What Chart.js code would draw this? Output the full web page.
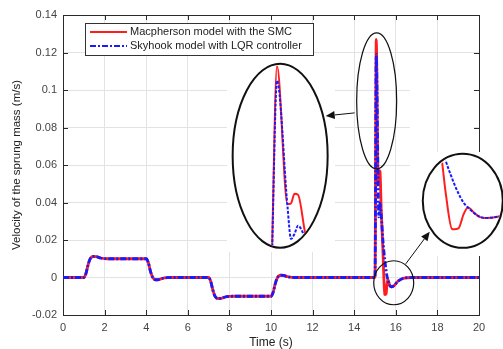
<!DOCTYPE html>
<html><head><meta charset="utf-8">
<script src="https://cdn.jsdelivr.net/npm/chart.js@4/dist/chart.umd.min.js"></script>
<style>
html,body{margin:0;padding:0;background:#fff;overflow:hidden}
#wrap{position:relative;width:503px;height:349px}
canvas{position:absolute;left:0;top:0}
</style>
</head><body><div id="wrap"><canvas id="main" width="503" height="349"></canvas></div>
<script>
// ---------------- data ----------------
const seriesNames = ['Macpherson model with the SMC', 'Skyhook model with LQR controller'];
const time = [0, 1.0, 1.1, 1.2, 1.3, 1.45, 1.6, 1.8, 2.0, 2.2,
  4.0, 4.1, 4.2, 4.3, 4.45, 4.6, 4.8, 5.0, 5.2,
  7.0, 7.1, 7.2, 7.3, 7.45, 7.6, 7.8, 8.0, 8.2,
  10.0, 10.1, 10.2, 10.3, 10.45, 10.6, 10.8, 11.0, 11.2,
  15.0, 15.06, 15.15, 15.18, 15.21, 15.24, 15.3, 15.38, 15.41, 15.47, 15.49, 15.53,
  15.58, 15.62, 15.68, 15.72, 15.78, 15.9, 16.1, 16.4, 16.8, 20];
const smc = [0, 0, 0.002, 0.0065, 0.0098, 0.0112, 0.0111, 0.0104, 0.0101, 0.0100,
  0.0100, 0.0080, 0.0035, 0.0003, -0.0012, -0.0011, -0.0004, -0.0001, 0,
  0, -0.0020, -0.0065, -0.0098, -0.0112, -0.0111, -0.0104, -0.0101, -0.0100,
  -0.0100, -0.0080, -0.0035, -0.0003, 0.0012, 0.0011, 0.0004, 0.0001, 0,
  0, 0.127, 0.0514, 0.0518, 0.057, 0.0565, 0.036, 0.0145, 0.0045, -0.009, -0.0091, -0.0088,
  -0.0035, -0.0012, -0.0032, -0.0045, -0.005, -0.0045, -0.002, -0.0003, 0, 0];
const lqr = [0, 0, 0.002, 0.0065, 0.0098, 0.0112, 0.0111, 0.0104, 0.0101, 0.0100,
  0.0100, 0.0080, 0.0035, 0.0003, -0.0012, -0.0011, -0.0004, -0.0001, 0,
  0, -0.0020, -0.0065, -0.0098, -0.0112, -0.0111, -0.0104, -0.0101, -0.0100,
  -0.0100, -0.0080, -0.0035, -0.0003, 0.0012, 0.0011, 0.0004, 0.0001, 0,
  0, 0.119, 0.05, 0.0323, 0.035, 0.0395, 0.033, 0.02, 0.016, 0.0095, 0.0075, 0.004,
  0.0005, -0.0012, -0.0033, -0.0043, -0.005, -0.0045, -0.002, -0.0003, 0, 0];
const xTicks = [0, 2, 4, 6, 8, 10, 12, 14, 16, 18, 20];
const xTickLabels = ['0', '2', '4', '6', '8', '10', '12', '14', '16', '18', '20'];
const yTicks = [-0.02, 0, 0.02, 0.04, 0.06, 0.08, 0.1, 0.12, 0.14];
const yTickLabels = ['-0.02', '0', '0.02', '0.04', '0.06', '0.08', '0.1', '0.12', '0.14'];
const xTitle = 'Time (s)';
const yTitle = 'Velocity of the sprung mass (m/s)';
// zoomed inset ranges [min, max]
const leftInsetX = [14.683, 15.497];
const leftInsetY = [0.0273, 0.1281];
const rightInsetX = [15.199, 15.947];
const rightInsetY = [-0.0159, 0.0183];

// ---------------- styling / annotations ----------------
const RED = '#ff1e1e', BLUE = '#1a1aff';
const BLUE_DASH = [6, 2, 2, 2];
const FONT = "'Liberation Sans', Arial, sans-serif";
// ellipses: center in data units, radii in px
const ellipses = {
  leftInset:  {cx: 10.44, cy: 0.0649, rx: 47.5, ry: 92, fill: true, lw: 2},
  rightInset: {cx: 19.22, cy: 0.0409, rx: 40, ry: 47, fill: true, lw: 2},
  spike:      {cx: 15.08, cy: 0.0942, rx: 20, ry: 68, fill: false, lw: 1.2},
  dip:        {cx: 15.9, cy: -0.0028, rx: 20, ry: 22, fill: false, lw: 1.2}
};
const arrows = [
  {from: [14.02, 0.0878], to: [12.63, 0.0862]},
  {from: [16.48, 0.0073], to: [17.63, 0.0244]}
];

function pts(ys) { return time.map((t, i) => ({x: t, y: ys[i]})); }
function makeDatasets(lw, dash) {
  return [
    {label: seriesNames[0], data: pts(smc), borderColor: RED, borderWidth: lw, pointRadius: 0,
     cubicInterpolationMode: 'monotone', order: 1, fill: false},
    {label: seriesNames[1], data: pts(lqr), borderColor: BLUE, borderWidth: lw, borderDash: dash,
     pointRadius: 0, cubicInterpolationMode: 'monotone', order: 0, fill: false}
  ];
}

const overlay = {
  id: 'overlay',
  beforeDatasetsDraw(chart) {
    const {ctx, chartArea: a, scales: {x, y}} = chart;
    ctx.save();
    ctx.fillStyle = '#fff';
    // cover patches (grid partly hidden behind the pasted insets)
    ctx.fillRect(227, 56, 108, 196);
    ctx.fillRect(410, 60, 64, 92);
    // grid line at 18 remains visible in upper right
    ctx.strokeStyle = '#e3e3e3'; ctx.lineWidth = 1;
    const gx = Math.round(x.getPixelForValue(18)) + 0.5;
    ctx.beginPath(); ctx.moveTo(gx, 60); ctx.lineTo(gx, 152); ctx.stroke();
    // border
    ctx.strokeStyle = '#2a2a2a'; ctx.lineWidth = 1;
    ctx.strokeRect(Math.round(a.left) + 0.5, Math.round(a.top) + 0.5,
      Math.round(a.right - a.left), Math.round(a.bottom - a.top));
    // inward ticks
    ctx.beginPath();
    xTicks.forEach(v => {
      const px = Math.round(x.getPixelForValue(v)) + 0.5;
      ctx.moveTo(px, a.top); ctx.lineTo(px, a.top + 5);
      ctx.moveTo(px, a.bottom); ctx.lineTo(px, a.bottom - 5);
    });
    yTicks.forEach(v => {
      const py = Math.round(y.getPixelForValue(v)) + 0.5;
      ctx.moveTo(a.left, py); ctx.lineTo(a.left + 5, py);
      ctx.moveTo(a.right, py); ctx.lineTo(a.right - 5, py);
    });
    ctx.stroke();
    // right inset patch hides the right border locally
    ctx.fillStyle = '#fff';
    ctx.fillRect(410, 152, 93, 104);
    ctx.restore();
  },
  afterDatasetsDraw(chart) {
    const {ctx, chartArea: a, scales: {x, y}} = chart;
    ctx.save();
    Object.values(ellipses).forEach(e => {
      const cx = x.getPixelForValue(e.cx), cy = y.getPixelForValue(e.cy);
      ctx.beginPath();
      ctx.ellipse(cx, cy, e.rx, e.ry, 0, 0, Math.PI * 2);
      if (e.fill) { ctx.fillStyle = '#fff'; ctx.fill(); }
      ctx.strokeStyle = '#111'; ctx.lineWidth = e.lw; ctx.stroke();
    });
    arrows.forEach(ar => {
      const x1 = x.getPixelForValue(ar.from[0]), y1 = y.getPixelForValue(ar.from[1]);
      const x2 = x.getPixelForValue(ar.to[0]), y2 = y.getPixelForValue(ar.to[1]);
      const ang = Math.atan2(y2 - y1, x2 - x1), L = 9, W = 4;
      const bx = x2 - L * Math.cos(ang), by = y2 - L * Math.sin(ang);
      ctx.strokeStyle = '#111'; ctx.lineWidth = 1;
      ctx.beginPath(); ctx.moveTo(x1, y1); ctx.lineTo(bx, by); ctx.stroke();
      ctx.fillStyle = '#111';
      ctx.beginPath();
      ctx.moveTo(x2, y2);
      ctx.lineTo(bx + W * Math.sin(ang), by - W * Math.cos(ang));
      ctx.lineTo(bx - W * Math.sin(ang), by + W * Math.cos(ang));
      ctx.closePath(); ctx.fill();
    });
    // legend
    const lx = Math.round(a.left) + 22, ly = Math.round(a.top) + 8, lw = 228, lh = 32;
    ctx.fillStyle = '#fff'; ctx.fillRect(lx, ly, lw, lh);
    ctx.strokeStyle = '#333'; ctx.lineWidth = 1; ctx.strokeRect(lx + 0.5, ly + 0.5, lw, lh);
    chart.data.datasets.forEach((ds, i) => {
      const yy = ly + 9 + i * 14;
      ctx.strokeStyle = ds.borderColor; ctx.lineWidth = 2;
      ctx.setLineDash(ds.borderDash || []);
      ctx.beginPath(); ctx.moveTo(lx + 5, yy); ctx.lineTo(lx + 42, yy); ctx.stroke();
      ctx.setLineDash([]);
      ctx.fillStyle = '#222'; ctx.font = '11px ' + FONT; ctx.textBaseline = 'middle';
      ctx.fillText(ds.label, lx + 45, yy);
    });
    ctx.restore();
  }
};

const main = new Chart(document.getElementById('main'), {
  type: 'line',
  data: {datasets: makeDatasets(2.8, BLUE_DASH)},
  options: {
    responsive: false, animation: false, devicePixelRatio: 1,
    layout: {padding: {top: 15, right: 24, left: 0, bottom: 0}},
    plugins: {legend: {display: false}, tooltip: {enabled: false}},
    scales: {
      x: {type: 'linear', min: 0, max: 20,
        afterBuildTicks: s => { s.ticks = xTicks.map(v => ({value: v})); },
        afterFit: s => { s.height = 34; },
        ticks: {callback: (v, i) => xTickLabels[i], color: '#444', font: {size: 11, family: FONT}, padding: 6, maxRotation: 0},
        grid: {color: '#e3e3e3', drawTicks: false}, border: {display: false},
        title: {display: true, text: xTitle, color: '#222', font: {size: 12, family: FONT, lineHeight: 1}, padding: {top: 0, bottom: 0}}
      },
      y: {type: 'linear', min: -0.02, max: 0.14,
        afterBuildTicks: s => { s.ticks = yTicks.map(v => ({value: v})); },
        afterFit: s => { s.width = 63; },
        ticks: {callback: (v, i) => yTickLabels[i], color: '#444', font: {size: 11, family: FONT}, padding: 6},
        grid: {color: '#e3e3e3', drawTicks: false}, border: {display: false},
        title: {display: true, text: yTitle, color: '#222', font: {size: 11.5, family: FONT, lineHeight: 1}, padding: {top: 11, bottom: 0}}
      }
    }
  },
  plugins: [overlay]
});

// ---------------- magnified insets ----------------
const ellipseClip = {
  id: 'ellipseClip',
  beforeDatasetsDraw(chart) {
    const {ctx, width, height} = chart;
    ctx.save(); ctx.beginPath();
    ctx.ellipse(width / 2, height / 2, width / 2 - 1.5, height / 2 - 1.5, 0, 0, Math.PI * 2);
    ctx.clip();
  },
  afterDatasetsDraw(chart) { chart.ctx.restore(); }
};
function makeInset(e, xr, yr) {
  const cx = main.scales.x.getPixelForValue(e.cx), cy = main.scales.y.getPixelForValue(e.cy);
  const c = document.createElement('canvas');
  c.width = Math.round(2 * e.rx); c.height = Math.round(2 * e.ry);
  c.style.left = Math.round(cx - e.rx) + 'px'; c.style.top = Math.round(cy - e.ry) + 'px';
  document.getElementById('wrap').appendChild(c);
  return new Chart(c, {
    type: 'line',
    data: {datasets: makeDatasets(2, [3, 1.5])},
    options: {
      responsive: false, animation: false, devicePixelRatio: 1,
      layout: {padding: 0},
      plugins: {legend: {display: false}, tooltip: {enabled: false}},
      scales: {
        x: {type: 'linear', display: false, min: xr[0], max: xr[1]},
        y: {type: 'linear', display: false, min: yr[0], max: yr[1]}
      }
    },
    plugins: [ellipseClip]
  });
}
makeInset(ellipses.leftInset, leftInsetX, leftInsetY);
makeInset(ellipses.rightInset, rightInsetX, rightInsetY);
</script>
</body></html>
